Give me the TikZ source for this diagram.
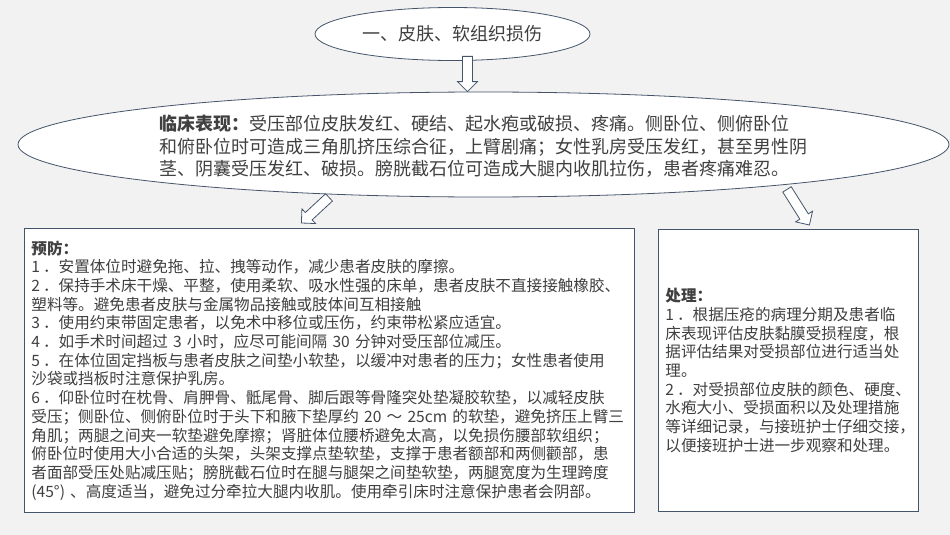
\documentclass[tikz,border=0pt]{standalone}
\usepackage{fontspec}
\setmainfont{Noto Sans CJK SC}
\usepackage{xcolor}
\usepackage{tikz}
\usetikzlibrary{calc}
\usetikzlibrary{shapes.geometric}
\definecolor{pagebg}{RGB}{242,242,242}
\definecolor{edge}{RGB}{68,84,106}
\definecolor{ink}{RGB}{64,64,64}
\newcommand\bigtxt{\fontsize{18pt}{22.5pt}\selectfont}
\newcommand\smalltxt{\fontsize{15.6pt}{18.7pt}\selectfont}
\newcommand\itemno[1]{#1\kern3pt．}
\tikzstyle{bubble}=[ellipse,draw=edge,fill=white,line width=.8pt,inner sep=0pt,text=ink]
\tikzstyle{panel}=[rectangle,draw=edge,fill=white,line width=.8pt,align=left,text=ink,font=\smalltxt,inner xsep=7pt,anchor=north west]
\tikzstyle{blockarr}=[draw=edge,fill=white,line width=.8pt,line join=miter]
% hollow block arrow from #1 to #2
\newcommand\fatarrow[2]{%
  \coordinate (fa-h) at ($(#2)!10pt!(#1)$);
  \draw[blockarr] ($(#1)!5pt!90:(#2)$) -- ($(fa-h)!5pt!90:(#2)$) -- ($(fa-h)!10pt!90:(#2)$)
    -- (#2) -- ($(fa-h)!10pt!-90:(#2)$) -- ($(fa-h)!5pt!-90:(#2)$) -- ($(#1)!5pt!-90:(#2)$) -- cycle;}

\begin{document}
\begin{tikzpicture}[x=1pt,y=1pt]
  \fill[pagebg] (0,0) rectangle (950,-535);
  \useasboundingbox (0,0) rectangle (950,-535);
  \node[bubble,minimum width=275pt,minimum height=53pt,font=\bigtxt] (topic) at (452.5,-34) {一、皮肤、软组织损伤};
  \node[bubble,minimum width=931pt,minimum height=105pt] (clinical) at (483.5,-144.5) {};
  \node[align=left,text=ink,font=\bigtxt,inner sep=0pt] (clinicaltxt) at ($(clinical)+(0,-2)$) {%
    \textbf{临床表现：}受压部位皮肤发红、硬结、起水疱或破损、疼痛。侧卧位、侧俯卧位\\
    和俯卧位时可造成三角肌挤压综合征，上臂剧痛；女性乳房受压发红，甚至男性阴\\
    茎、阴囊受压发红、破损。膀胱截石位可造成大腿内收肌拉伤，患者疼痛难忍。};
  \node[panel,text width=596pt,minimum height=284pt] (prevention) at (24,-228) {%
    \textbf{预防：}\\
    \itemno{1}安置体位时避免拖、拉、拽等动作，减少患者皮肤的摩擦。\\
    \itemno{2}保持手术床干燥、平整，使用柔软、吸水性强的床单，患者皮肤不直接接触橡胶、\\
    塑料等。避免患者皮肤与金属物品接触或肢体间互相接触\\
    \itemno{3}使用约束带固定患者，以免术中移位或压伤，约束带松紧应适宜。\\
    \itemno{4}如手术时间超过 3 小时，应尽可能间隔 30 分钟对受压部位减压。\\
    \itemno{5}在体位固定挡板与患者皮肤之间垫小软垫，以缓冲对患者的压力；女性患者使用\\
    沙袋或挡板时注意保护乳房。\\
    \itemno{6}仰卧位时在枕骨、肩胛骨、骶尾骨、脚后跟等骨隆突处垫凝胶软垫，以减轻皮肤\\
    受压；侧卧位、侧俯卧位时于头下和腋下垫厚约 20 ～ 25cm 的软垫，避免挤压上臂三\\
    角肌；两腿之间夹一软垫避免摩擦；肾脏体位腰桥避免太高，以免损伤腰部软组织；\\
    俯卧位时使用大小合适的头架，头架支撑点垫软垫，支撑于患者额部和两侧颧部，患\\
    者面部受压处贴减压贴；膀胱截石位时在腿与腿架之间垫软垫，两腿宽度为生理跨度\\
    (45°) 、高度适当，避免过分牵拉大腿内收肌。使用牵引床时注意保护患者会阴部。};
  \node[panel,text width=246pt,minimum height=282pt] (treatment) at (658,-229) {%
    \textbf{处理：}\\
    \itemno{1}根据压疮的病理分期及患者临\\
    床表现评估皮肤黏膜受损程度，根\\
    据评估结果对受损部位进行适当处\\
    理。\\
    \itemno{2}对受损部位皮肤的颜色、硬度、\\
    水疱大小、受损面积以及处理措施\\
    等详细记录，与接班护士仔细交接，\\
    以便接班护士进一步观察和处理。};
  \coordinate (a1s) at ($(topic.south)+(15,4.5)$);
  \coordinate (a1e) at ($(clinical.north)+(-16,0)$);
  \coordinate (a2s) at ($(clinical.south)+(-154.5,0)$);
  \coordinate (a2e) at ($(prevention.north)+(-28,5)$);
  \coordinate (a3s) at ($(clinical.south)+(303.5,8)$);
  \coordinate (a3e) at ($(treatment.north)+(21,4)$);
  \fatarrow{a1s}{a1e}
  \fatarrow{a2s}{a2e}
  \fatarrow{a3s}{a3e}
\end{tikzpicture}
\end{document}
